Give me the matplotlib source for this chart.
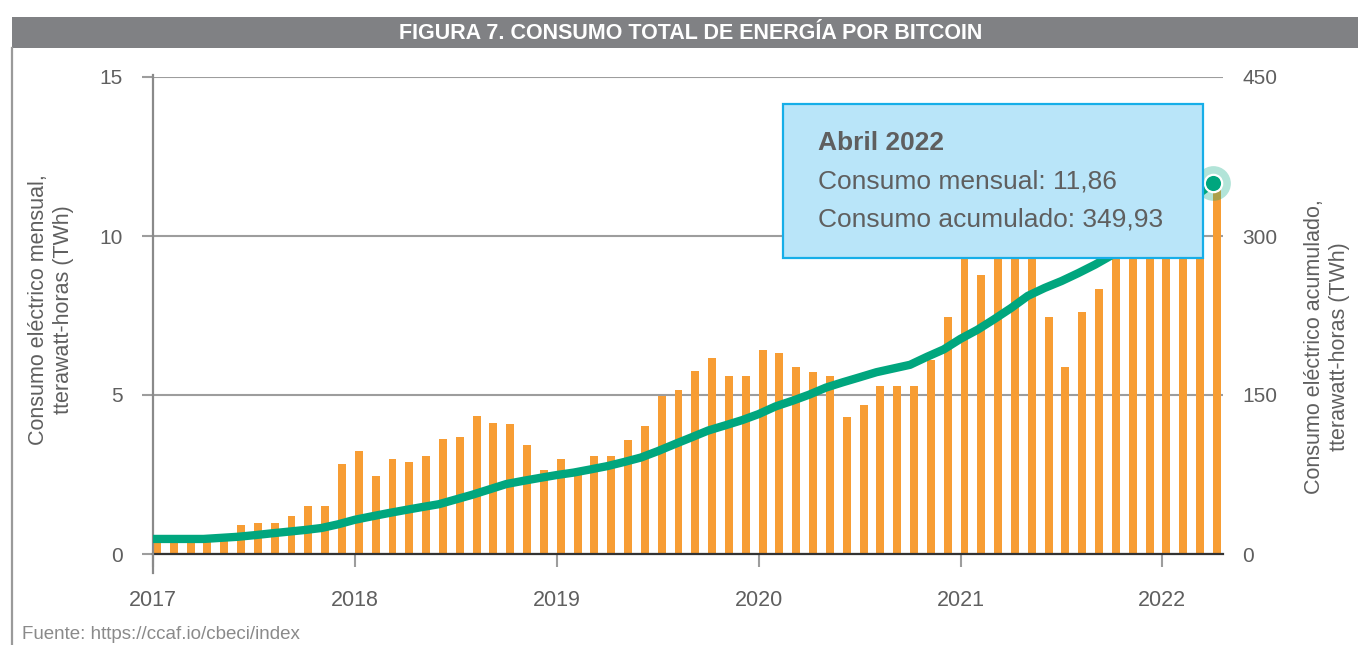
import matplotlib
matplotlib.use("Agg")
import matplotlib.pyplot as plt
from matplotlib.patches import Rectangle
from matplotlib.lines import Line2D

plt.rcParams['font.family'] = ['Liberation Sans', 'DejaVu Sans']

# ---------------- data ----------------
years = ["2017", "2018", "2019", "2020", "2021", "2022"]
months_per_year = 12

# Monthly consumption (TWh), Jan 2017 .. Apr 2022
monthly = [
    0.50, 0.50, 0.50, 0.50, 0.60, 0.90, 0.96, 0.96, 1.20, 1.50, 1.50, 2.83,   # 2017
    3.25, 2.45, 2.99, 2.90, 3.09, 3.63, 3.69, 4.33, 4.11, 4.08, 3.44, 2.65,   # 2018
    3.00, 2.60, 3.09, 3.09, 3.60, 4.04, 4.98, 5.17, 5.77, 6.15, 5.61, 5.61,   # 2019
    6.40, 6.31, 5.87, 5.71, 5.61, 4.32, 4.67, 5.27, 5.27, 5.27, 6.10, 7.44,   # 2020
    9.80, 8.77, 10.30, 10.40, 10.00, 7.44, 5.87, 7.60, 8.33, 10.30, 11.30, 11.40,  # 2021
    11.00, 10.20, 11.40, 11.86,                                              # 2022
]

# Cumulative consumption (TWh), Jan 2017 .. Apr 2022
cumulative = [
    14.2, 14.2, 14.2, 14.2, 15.2, 16.2, 17.7, 19.4, 21.0, 22.6, 24.5, 28.0,
    32.3, 35.5, 38.6, 41.5, 44.3, 47.0, 51.5, 56.0, 61.0, 66.0, 69.0, 71.8,
    74.5, 76.8, 79.8, 82.9, 86.8, 91.0, 97.0, 103.6, 110.0, 116.5, 121.3, 126.2,
    132.0, 139.2, 144.5, 150.3, 157.0, 162.0, 166.7, 171.5, 175.0, 178.5, 186.0, 193.0,
    203.0, 211.5, 221.5, 232.0, 243.5, 251.0, 257.5, 265.0, 273.0, 282.0, 293.0, 304.5,
    315.5, 326.0, 338.0, 349.93,
]

left_ticks = [0, 5, 10, 15]
right_ticks = [0, 150, 300, 450]

title = "FIGURA 7. CONSUMO TOTAL DE ENERGÍA POR BITCOIN"
left_label = "Consumo eléctrico mensual,\ntterawatt-horas (TWh)"
right_label = "Consumo eléctrico acumulado,\ntterawatt-horas (TWh)"
tooltip_title = "Abril 2022"
tooltip_l1 = "Consumo mensual: 11,86"
tooltip_l2 = "Consumo acumulado: 349,93"
source = "Fuente: https://ccaf.io/cbeci/index"

# ---------------- figure ----------------
W, H = 1358, 645
fig = plt.figure(figsize=(W / 100, H / 100), dpi=100)

def fx(px):
    return px / W

def fy(py):
    return (H - py) / H

ax = fig.add_axes([fx(153), fy(554), fx(1223) - fx(153), fy(77) - fy(554)])
ax2 = ax.twinx()

x = list(range(len(monthly)))
ORANGE = "#f79d34"
GREEN = "#00a67e"
GRID = "#9d9d9d"
TXT = "#5f5f5f"

ax.bar(x, monthly, width=0.47, align="edge", color=ORANGE, zorder=3)
ax.set_xlim(0, 63.6)
ax.set_ylim(0, 15)
ax.set_yticks(left_ticks)
ax.set_yticklabels([str(t) for t in left_ticks])
ax.yaxis.grid(True, color=GRID, lw=1.5, zorder=0)
ax.set_axisbelow(True)

xt = [i * months_per_year for i in range(len(years))]
ax.set_xticks(xt)
ax.set_xticklabels(years)

for s in ["top", "right", "left"]:
    ax.spines[s].set_visible(False)
ax.spines["bottom"].set_color("#333333")
ax.spines["bottom"].set_linewidth(1.6)
ax.spines["bottom"].set_zorder(4)

ax.tick_params(axis="y", length=8, width=1.5, color=GRID, pad=14,
               labelsize=15, labelcolor=TXT)
ax.tick_params(axis="x", length=9, width=1.5, color=GRID, pad=17,
               labelsize=15.5, labelcolor=TXT)

# left axis line extending beyond plot area
ax.plot([0, 0], [-0.04, 1.004], transform=ax.transAxes, color="#8a8a8a",
        lw=1.6, clip_on=False, zorder=5)

ax2.set_ylim(0, 450)
ax2.set_yticks(right_ticks)
ax2.set_yticklabels([str(t) for t in right_ticks])
ax2.tick_params(axis="y", length=0, pad=14, labelsize=15, labelcolor=TXT)
for s in ["top", "right", "left", "bottom"]:
    ax2.spines[s].set_visible(False)

ax2.plot(x, cumulative, color=GREEN, lw=6.0, solid_capstyle="round",
         solid_joinstyle="round", zorder=4)
ax2.plot([x[-1]], [cumulative[-1]], marker="o", ms=25, color=GREEN, alpha=0.3,
         mew=0, zorder=5, clip_on=False)
ax2.plot([x[-1]], [cumulative[-1]], marker="o", ms=12.5, color=GREEN, mec="white",
         mew=1.6, zorder=6, clip_on=False)

# ---------------- decorations ----------------
fig.patches.append(Rectangle((fx(12), fy(48)), 1 - fx(12), fy(17) - fy(48),
                             transform=fig.transFigure, facecolor="#808184",
                             edgecolor="none", zorder=1))
fig.text(fx(691), fy(39), title, ha="center", va="baseline", color="white",
         fontsize=15.5, fontweight="bold", zorder=2)
fig.lines.append(Line2D([fx(12), fx(12)], [fy(48), 0], transform=fig.transFigure,
                        color="#9a9a9a", lw=1.6))

fig.text(fx(51), fy(310), left_label, rotation=90, ha="center", va="center",
         multialignment="center", fontsize=15.5, color=TXT, linespacing=1.25)
fig.text(fx(1327), fy(347), right_label, rotation=90, ha="center", va="center",
         multialignment="center", fontsize=15.5, color=TXT, linespacing=1.25)

fig.text(fx(22), fy(639), source, ha="left", va="baseline", fontsize=13.5,
         color="#8a8a8a")

# tooltip
fig.patches.append(Rectangle((fx(783), fy(258)), fx(1203) - fx(783), fy(104) - fy(258),
                             transform=fig.transFigure, facecolor="#b9e5f9",
                             edgecolor="#16aee8", lw=1.6, zorder=10))
fig.text(fx(818), fy(150), tooltip_title, ha="left", va="baseline",
         fontsize=19, fontweight="bold", color=TXT, zorder=11)
fig.text(fx(818), fy(188), tooltip_l1, ha="left", va="baseline",
         fontsize=19, color=TXT, zorder=11)
fig.text(fx(818), fy(226.5), tooltip_l2, ha="left", va="baseline",
         fontsize=19, color=TXT, zorder=11)

fig.savefig("out.png", dpi=100, facecolor="white")
